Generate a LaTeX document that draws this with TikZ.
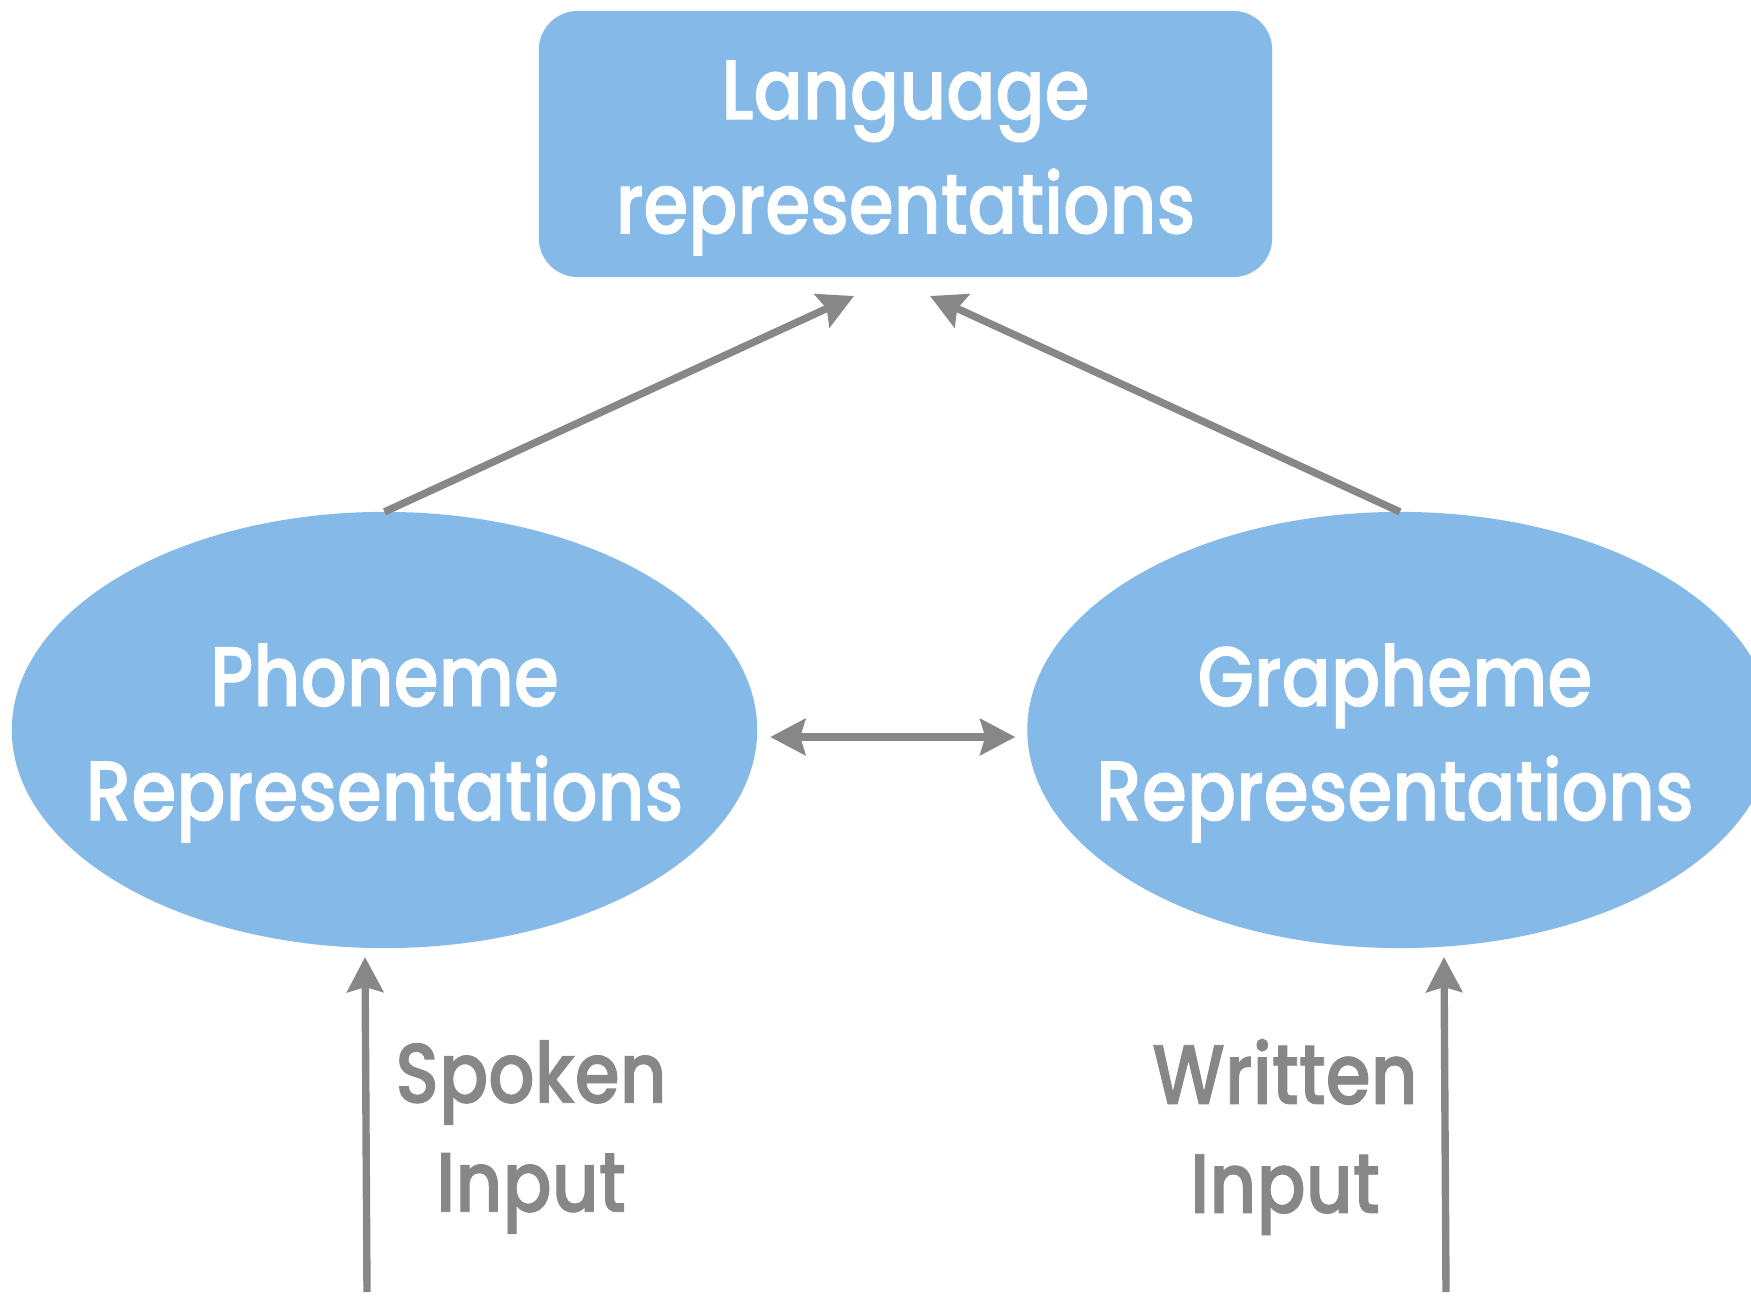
\documentclass[tikz,border=0pt]{standalone}
\usepackage{fontspec}
\setmainfont{Poppins}[UprightFont=* Medium,FakeStretch=0.86,FakeBold=1]
\usetikzlibrary{shapes.geometric,arrows.meta}
\definecolor{bleu}{HTML}{85BAE8}
\definecolor{gris}{HTML}{878787}

\begin{document}
\begin{tikzpicture}[x=0.01cm,y=-0.01cm,
    >={Stealth[length=0.35cm,width=0.36cm,inset=0.05cm]},
    fleche/.style={gris,line width=2.1pt},
    bulle/.style={ellipse,fill=bleu,inner sep=0pt,outer sep=0pt,minimum width=7.45cm,minimum height=4.36cm},
    blanc/.style={text=white,align=center,font=\fontsize{24}{32.5}\selectfont},
    entree/.style={gris,align=center,font=\fontsize{24}{31}\selectfont}]
\useasboundingbox (0,0) rectangle (1751,1297);

%Les représentations
\node[fill=bleu,rounded corners=0.39cm,minimum width=7.33cm,minimum height=2.66cm,inner sep=0pt] (lang) at (905.5,144) {};
\node[bulle] (phon) at (384.5,730) {};
\node[bulle] (graph) at (1400,730) {};
\node[blanc] (langT) at (905.5,158) {Language\\representations};
\node[blanc] (phonT) at (384.5,743) {Phoneme\\Representations};
\node[blanc] (graphT) at (1395,743) {Grapheme\\Representations};

%Les entrées
\node[entree] (spoken) at (531,1137) {Spoken\\Input};
\node[entree] (written) at (1285,1137) {Written\\Input};
\coordinate (pointeL) at (854,296);
\coordinate (pointeG) at (930,296);
\coordinate (basS) at (367,1292);
\coordinate (hautS) at (365,957);
\coordinate (basW) at (1446,1292);
\coordinate (hautW) at (1444,957);

%Les flèches
\draw[fleche,->] (phon.north) -- (pointeL);
\draw[fleche,->] (graph.north) -- (pointeG);
\draw[fleche,<->] ([xshift=0.13cm,yshift=-0.07cm]phon.east) -- ([xshift=-0.12cm,yshift=-0.07cm]graph.west);
\draw[fleche,->] (basS) -- (hautS);
\draw[fleche,->] (basW) -- (hautW);

\end{tikzpicture}
\end{document}
